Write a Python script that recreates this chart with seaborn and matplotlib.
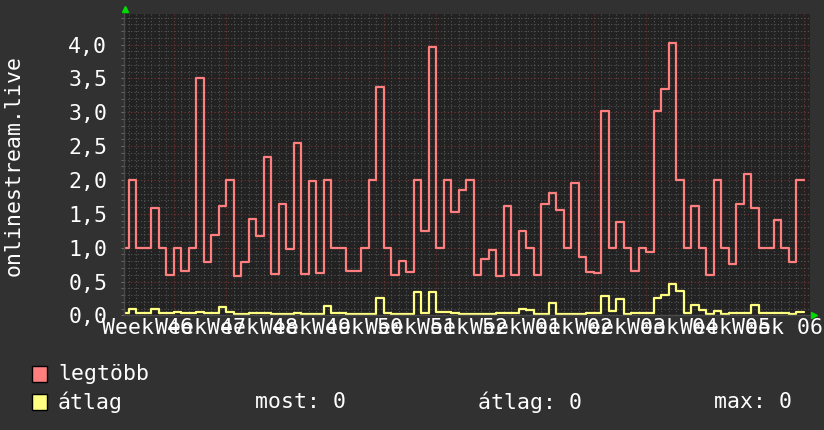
import numpy as np
import pandas as pd
import matplotlib
matplotlib.use('Agg')
import matplotlib.pyplot as plt
from matplotlib.ticker import MultipleLocator, FuncFormatter
from matplotlib.patches import Rectangle
import seaborn as sns

# heti címkék (Week 46 ... Week 06)
weeks = ['46', '47', '48', '49', '50', '51', '52', '01', '02', '03', '04', '05', '06']

# napi értékek
legtobb = [1.0, 2.0, 1.0, 1.0, 1.58, 1.0, 0.6, 1.0, 0.65, 1.0,
           3.5, 0.79, 1.19, 1.61, 2.0, 0.58, 0.79, 1.42, 1.18, 2.34,
           0.61, 1.65, 0.98, 2.55, 0.61, 1.98, 0.63, 2.0, 1.0, 1.0,
           0.65, 0.65, 1.0, 2.0, 3.38, 1.0, 0.6, 0.81, 0.645, 2.0,
           1.24, 3.97, 1.0, 2.0, 1.53, 1.85, 2.0, 0.59, 0.83, 0.97,
           0.58, 1.61, 0.6, 1.25, 1.0, 0.6, 1.64, 1.81, 1.56, 1.0,
           1.96, 0.87, 0.645, 0.63, 3.02, 1.0, 1.38, 1.0, 0.65, 1.0,
           0.94, 3.02, 3.35, 4.02, 2.0, 1.0, 1.62, 1.0, 0.6, 2.0,
           1.0, 0.76, 1.64, 2.09, 1.59, 1.0, 1.0, 1.41, 1.0, 0.79,
           2.0]
atlag = [0.03, 0.09, 0.03, 0.03, 0.09, 0.03, 0.03, 0.05, 0.03, 0.03,
         0.05, 0.04, 0.04, 0.13, 0.05, 0.02, 0.02, 0.03, 0.03, 0.04,
         0.02, 0.02, 0.02, 0.04, 0.02, 0.02, 0.02, 0.14, 0.03, 0.03,
         0.02, 0.02, 0.02, 0.02, 0.25, 0.03, 0.02, 0.02, 0.02, 0.35,
         0.03, 0.34, 0.05, 0.05, 0.04, 0.02, 0.02, 0.02, 0.02, 0.02,
         0.03, 0.03, 0.03, 0.10, 0.08, 0.02, 0.02, 0.19, 0.02, 0.02,
         0.02, 0.02, 0.03, 0.03, 0.28, 0.07, 0.24, 0.02, 0.03, 0.03,
         0.03, 0.25, 0.30, 0.46, 0.365, 0.04, 0.16, 0.08, 0.02, 0.07,
         0.02, 0.03, 0.03, 0.03, 0.16, 0.04, 0.03, 0.03, 0.03, 0.02,
         0.05]

BACK = '#313131'
CANVAS = '#222222'
RED = '#ff7f7f'
YEL = '#ffff80'
FS = 15.5

sns.set_style('dark')
plt.rcParams['font.family'] = ['DejaVu Sans Mono']
plt.rcParams['text.color'] = 'white'

fig = plt.figure(figsize=(8.24, 4.30), dpi=100, facecolor=BACK)
ax = fig.add_axes([124 / 824, 114.6 / 430, 686 / 824, 301.4 / 430])
ax.set_facecolor(CANVAS)

# lépcsős rajzhoz: napok kezdete + utolsó nap vége
x = np.arange(len(legtobb) + 1, dtype=float)
x[0] = 0.53
df = pd.DataFrame({'nap': x,
                   'legtöbb': legtobb + [legtobb[-1]],
                   'átlag': atlag + [atlag[-1]]})

sns.lineplot(data=df, x='nap', y='legtöbb', drawstyle='steps-post',
             color=RED, lw=1.6, estimator=None, ax=ax)
sns.lineplot(data=df, x='nap', y='átlag', drawstyle='steps-post',
             color=YEL, lw=1.6, estimator=None, ax=ax)

ax.set_xlim(0.36, 91.83)
ax.set_ylim(0, 4.452)

# rács
ax.xaxis.set_major_locator(MultipleLocator(7))
ax.xaxis.set_minor_locator(MultipleLocator(1))
ax.yaxis.set_major_locator(MultipleLocator(0.5))
ax.yaxis.set_minor_locator(MultipleLocator(0.1))
ax.grid(True, which='minor', color='#555555', ls=(0, (1, 2)), lw=0.8)
ax.grid(True, which='major', color='#7a3434', ls=(0, (1, 2)), lw=0.8)
ax.set_axisbelow(True)

ax.yaxis.set_major_formatter(FuncFormatter(lambda v, p: f'{v:.1f}'.replace('.', ',')))
ax.tick_params(axis='y', which='both', direction='out', length=2, color='#707070',
               labelcolor='white', labelsize=FS, pad=10, left=True)
ax.tick_params(axis='x', which='both', length=0, labelbottom=False)

sec = ax.secondary_xaxis('bottom')
sec.set_xticks(np.arange(len(weeks)) * 7 + 3.5, labels=[f'Week {w}' for w in weeks])
sec.tick_params(length=0, labelcolor='white', labelsize=FS, pad=2)
sec.spines['bottom'].set_visible(False)

for s in ['top', 'right']:
    ax.spines[s].set_visible(False)
for s in ['left', 'bottom']:
    ax.spines[s].set_color('#4a4a4a')
    ax.spines[s].set_linewidth(1)

ax.set_xlabel('')
ax.set_ylabel('')
fig.text(14 / 824, 1 - 165 / 430, 'onlinestream.live', rotation=90,
         ha='center', va='center', fontsize=FS, color='white')

# zöld nyilak a tengelyek végén
ax.plot(0.002, 1.015, marker='^', color='#00dd00', ms=4, transform=ax.transAxes, clip_on=False)
ax.plot(1.006, 0.0, marker='>', color='#00dd00', ms=4, transform=ax.transAxes, clip_on=False)

# jelmagyarázat
for yc, col in [(374, RED), (402, YEL)]:
    fig.patches.append(Rectangle((32 / 824, 1 - (yc + 8) / 430), 15 / 824, 16 / 430,
                                 transform=fig.transFigure, facecolor=col,
                                 edgecolor='black', lw=1))
fig.text(58 / 824, 1 - 374 / 430, 'legtöbb', va='center', fontsize=FS)
fig.text(58 / 824, 1 - 402 / 430, 'átlag', va='center', fontsize=FS)
fig.text(255 / 824, 1 - 402 / 430, 'most: 0', va='center', fontsize=FS)
fig.text(478 / 824, 1 - 402 / 430, 'átlag: 0', va='center', fontsize=FS)
fig.text(714 / 824, 1 - 402 / 430, 'max: 0', va='center', fontsize=FS)

fig.savefig('out.png', dpi=100, facecolor=BACK)
